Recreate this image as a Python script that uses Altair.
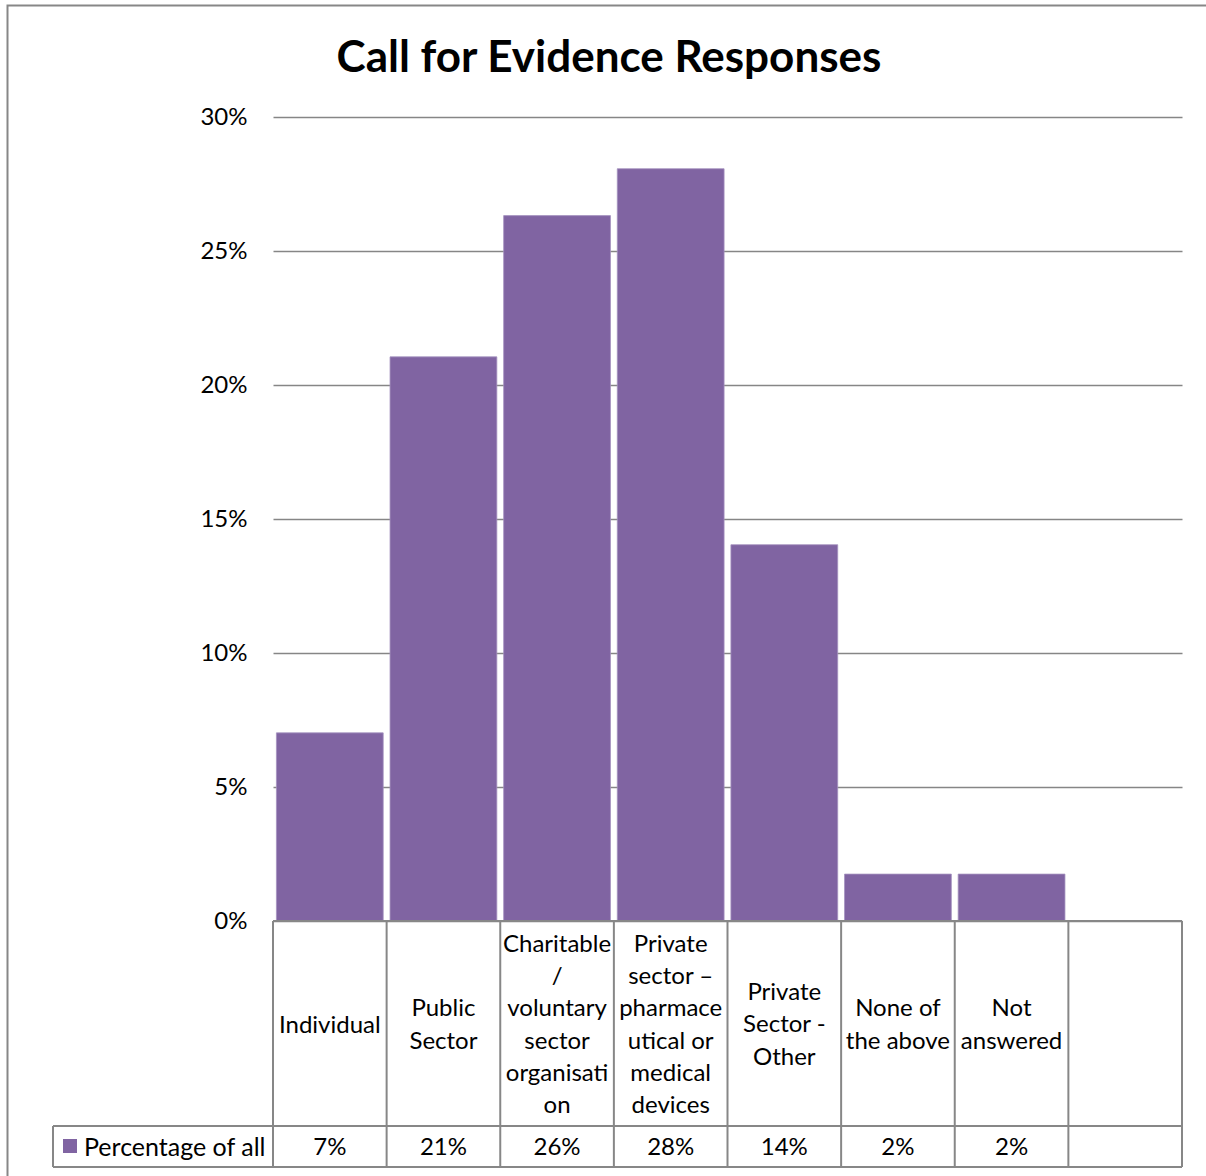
import altair as alt
import pandas as pd

# ---- data ----
slot_keys = ["Individual", "Public Sector", "Charitable", "Pharma", "Private Other",
             "None of the above", "Not answered", "blank"]
category_labels = ["Individual", "Public\nSector", "Charitable\n/\nvoluntary\nsector\norganisati\non",
                   "Private\nsector –\npharmace\nutical or\nmedical\ndevices",
                   "Private\nSector -\nOther", "None of\nthe above", "Not\nanswered", ""]
values = [0.0702, 0.2105, 0.2632, 0.2807, 0.1404, 0.0175, 0.0175]
value_labels = ["7%", "21%", "26%", "28%", "14%", "2%", "2%", ""]
series_name = "Percentage of all"
title_text = "Call for Evidence Responses"
y_ticks = [0, 0.05, 0.10, 0.15, 0.20, 0.25, 0.30]

bars_df = pd.DataFrame({"key": slot_keys[:7], "value": values})
table_df = pd.DataFrame({"key": slot_keys, "label": category_labels, "vlabel": value_labels})
table_df["nlines"] = table_df["label"].str.count("\n") + 1
last_df = pd.DataFrame({"key": [slot_keys[-1]]})
one = pd.DataFrame({"t": [title_text], "s": [series_name]})

W, H = 909, 804
ROW1 = 1009   # bottom of category-label row (px within plot group)
ROW2 = 1050   # bottom of the data row
LEG_X = -220  # left edge of legend cell
FONT = "Lato"
LINE = "#878787"
PURPLE = "#8064A2"
LH = 32.3

xscale = alt.Scale(domain=slot_keys, paddingInner=0, paddingOuter=0)
x_enc = alt.X("key:N", scale=xscale, axis=None, sort=slot_keys)

bars = alt.Chart(bars_df).mark_bar(
    color=PURPLE, width=alt.RelativeBandSize(0.94), stroke="#a592bf", strokeWidth=0.8
).encode(
    x=x_enc,
    y=alt.Y("value:Q", scale=alt.Scale(domain=[0, 0.30], nice=False),
            axis=alt.Axis(values=y_ticks, format=".0%", domain=False, ticks=False,
                          labelPadding=26, labelFontSize=24, labelFont=FONT,
                          labelColor="black", gridColor="#868686", gridWidth=1.5,
                          title=None)),
)

vlines = alt.Chart(table_df).mark_rule(color=LINE, strokeWidth=2).encode(
    x=alt.X("key:N", scale=xscale, axis=None, sort=slot_keys, bandPosition=0),
    y=alt.value(H), y2=alt.value(ROW2),
)
vline_last = alt.Chart(last_df).mark_rule(color=LINE, strokeWidth=2).encode(
    x=alt.X("key:N", scale=xscale, axis=None, sort=slot_keys, bandPosition=1),
    y=alt.value(H), y2=alt.value(ROW2),
)

hlines = alt.Chart(one).mark_rule(color=LINE, strokeWidth=2).encode(
    x=alt.value(LEG_X), x2=alt.value(W), y=alt.value(ROW1),
) + alt.Chart(one).mark_rule(color=LINE, strokeWidth=2).encode(
    x=alt.value(LEG_X), x2=alt.value(W), y=alt.value(ROW2),
) + alt.Chart(one).mark_rule(color=LINE, strokeWidth=2).encode(
    x=alt.value(0), x2=alt.value(W), y=alt.value(H),
) + alt.Chart(one).mark_rule(color=LINE, strokeWidth=2).encode(
    x=alt.value(LEG_X), y=alt.value(ROW1), y2=alt.value(ROW2),
)

# category labels, vertically centred block per line count
cat_layers = []
for n in sorted(table_df["nlines"].unique()):
    cat_layers.append(
        alt.Chart(table_df).transform_filter(alt.datum.nlines == int(n)).mark_text(
            font=FONT, fontSize=24, lineBreak="\n", lineHeight=LH, baseline="middle",
            align="center", color="black", dy=-(int(n) - 1) * LH / 2
        ).encode(
            x=alt.X("key:N", scale=xscale, axis=None, sort=slot_keys, bandPosition=0.5),
            y=alt.value((H + ROW1) / 2 + 2),
            text="label:N",
        )
    )

val_text = alt.Chart(table_df).mark_text(
    font=FONT, fontSize=24, baseline="middle", align="center", color="black"
).encode(
    x=alt.X("key:N", scale=xscale, axis=None, sort=slot_keys, bandPosition=0.5),
    y=alt.value((ROW1 + ROW2) / 2 + 1),
    text="vlabel:N",
)

legend_sq = alt.Chart(one).mark_rect(color=PURPLE).encode(
    x=alt.value(-210), x2=alt.value(-196), y=alt.value(1022), y2=alt.value(1036),
)
legend_txt = alt.Chart(one).mark_text(
    font=FONT, fontSize=25, baseline="middle", align="left", color="black"
).encode(x=alt.value(-189), y=alt.value((ROW1 + ROW2) / 2 + 1), text="s:N")

title = alt.Chart(one).mark_text(
    font=FONT, fontSize=44, fontWeight="bold", baseline="alphabetic", align="center",
    color="black"
).encode(x=alt.value(609 - 273), y=alt.value(72 - 117), text="t:N")

border = alt.Chart(one).mark_rect(fill=None, stroke="#878787", strokeWidth=2).encode(
    x=alt.value(7.5 - 273), x2=alt.value(1206 - 273 + 20),
    y=alt.value(5.5 - 117), y2=alt.value(1176 - 117 + 20),
)

chart = alt.layer(
    border, bars, vlines, vline_last, hlines, *cat_layers, val_text, legend_sq, legend_txt, title
).properties(
    width=W, height=H,
    autosize=alt.AutoSizeParams(type="none"),
    padding={"left": 273, "top": 117, "right": 24, "bottom": 255},
    background="white",
).configure_view(stroke=None)

chart.save("out.html", embed_options={"renderer": "svg", "actions": False})
